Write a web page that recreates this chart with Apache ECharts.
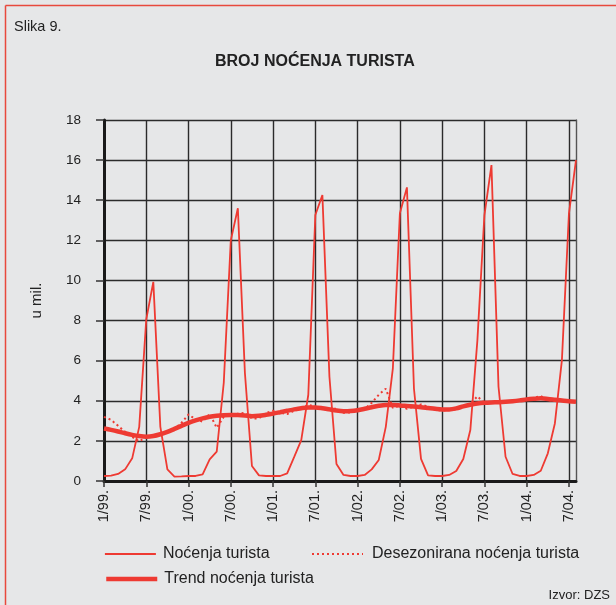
<!DOCTYPE html>
<html><head><meta charset="utf-8">
<script src="https://cdn.jsdelivr.net/npm/echarts@6/dist/echarts.min.js"></script>
<style>html,body{margin:0;padding:0;background:#e6e7e8}#c{width:616px;height:605px}</style>
</head><body><div id="c"></div><script>
const categories = [
 '1/99.','2/99.','3/99.','4/99.','5/99.','6/99.','7/99.','8/99.','9/99.','10/99.','11/99.','12/99.',
 '1/00.','2/00.','3/00.','4/00.','5/00.','6/00.','7/00.','8/00.','9/00.','10/00.','11/00.','12/00.',
 '1/01.','2/01.','3/01.','4/01.','5/01.','6/01.','7/01.','8/01.','9/01.','10/01.','11/01.','12/01.',
 '1/02.','2/02.','3/02.','4/02.','5/02.','6/02.','7/02.','8/02.','9/02.','10/02.','11/02.','12/02.',
 '1/03.','2/03.','3/03.','4/03.','5/03.','6/03.','7/03.','8/03.','9/03.','10/03.','11/03.','12/03.',
 '1/04.','2/04.','3/04.','4/04.','5/04.','6/04.','7/04.','8/04.'
];
const tickLabels = ['1/99.','7/99.','1/00.','7/00.','1/01.','7/01.','1/02.','7/02.','1/03.','7/03.','1/04.','7/04.'];
const yTicks = [0,2,4,6,8,10,12,14,16,18];

const nocenja = [
 0.25,0.27,0.35,0.58,1.13,2.7,8.06,9.93,2.7,0.58,0.22,0.23,
 0.25,0.25,0.33,1.08,1.46,4.9,12.0,13.6,5.4,0.75,0.28,0.25,
 0.25,0.25,0.38,1.2,2.04,4.3,13.26,14.26,5.2,0.85,0.3,0.25,
 0.25,0.3,0.58,1.05,2.7,5.6,13.35,14.64,4.6,1.1,0.28,0.25,
 0.25,0.3,0.5,1.1,2.54,7.0,13.26,15.75,4.7,1.21,0.35,0.25,
 0.25,0.3,0.51,1.38,2.87,6.03,13.35,16.0
];
const desezonirana = [
 3.2,3.05,2.75,2.45,2.2,1.97,2.2,2.25,2.3,2.45,2.6,2.9,
 3.32,3.07,2.96,3.35,2.65,3.2,3.3,3.35,3.4,3.12,3.12,3.4,
 3.5,3.4,3.34,3.5,3.6,3.8,3.7,3.57,3.62,3.6,3.4,3.42,
 3.5,3.6,3.9,4.3,4.6,3.65,3.75,3.6,3.7,3.82,3.7,3.55,
 3.5,3.55,3.57,3.7,3.85,4.22,3.9,3.9,3.95,3.93,3.97,4.0,
 4.05,4.15,4.24,4.0,4.05,4.0,3.97,3.95
];
const trend = [
 2.62,2.55,2.47,2.38,2.3,2.24,2.21,2.24,2.33,2.45,2.6,2.75,
 2.9,3.02,3.12,3.2,3.25,3.28,3.29,3.29,3.27,3.23,3.25,3.3,
 3.36,3.43,3.5,3.57,3.63,3.67,3.67,3.63,3.57,3.51,3.48,3.49,
 3.53,3.6,3.68,3.75,3.79,3.79,3.77,3.74,3.71,3.68,3.64,3.6,
 3.57,3.57,3.62,3.72,3.8,3.86,3.9,3.92,3.93,3.95,3.98,4.02,
 4.07,4.1,4.12,4.09,4.05,4.01,3.98,3.95
];

const RED = '#ee3a32';
const GRID = '#2b2b2b';
const FONT = '"Liberation Sans", Arial, Helvetica, sans-serif';
const chart = echarts.init(document.getElementById('c'), null, {renderer: 'canvas'});
const showIdx = (i) => tickLabels.indexOf(categories[i]) >= 0;
const legendBase = {itemWidth: 51, itemHeight: 14, itemStyle: {opacity: 0}};

chart.setOption({
  backgroundColor: '#e6e7e8',
  animation: false,
  textStyle: {fontFamily: FONT},
  title: [
    {text: 'Slika 9.', left: 9, top: 14, textStyle: {fontSize: 14.5, fontWeight: 'normal', color: '#222', fontFamily: FONT}},
    {text: 'BROJ NOĆENJA TURISTA', left: 210, top: 49, textStyle: {fontSize: 16, fontWeight: 'bold', color: '#222', fontFamily: FONT}}
  ],
  grid: {left: 104, top: 120, right: 40, bottom: 124, containLabel: false},
  legend: [
    Object.assign({data: ['Noćenja turista'], left: 99, top: 541,
     lineStyle: {width: 1.8},
     textStyle: {fontSize: 16, color: '#222', fontFamily: FONT, padding: [0,0,0,2]}}, legendBase),
    Object.assign({data: ['Desezonirana noćenja turista'], left: 306, top: 541,
     lineStyle: {width: 2},
     textStyle: {fontSize: 16, color: '#222', fontFamily: FONT, padding: [0,0,0,4]}}, legendBase),
    Object.assign({data: ['Trend noćenja turista'], left: 99, top: 566,
     lineStyle: {width: 4.5},
     textStyle: {fontSize: 16, color: '#222', fontFamily: FONT, padding: [0,0,0,2]}}, legendBase)
  ],
  xAxis: {
    type: 'category', data: categories, boundaryGap: false,
    axisLine: {lineStyle: {color: '#1a1a1a', width: 3}},
    axisTick: {show: true, interval: (i) => showIdx(i), length: 6, lineStyle: {color: '#333', width: 1.5}},
    axisLabel: {interval: (i) => showIdx(i), rotate: 90, margin: 9, fontSize: 14.5, color: '#222', fontFamily: FONT},
    splitLine: {show: true, interval: (i) => showIdx(i), lineStyle: {color: GRID, width: 1.4}}
  },
  yAxis: [
    {type: 'value', min: yTicks[0], max: yTicks[yTicks.length-1], interval: 2,
     name: 'u mil.', nameLocation: 'middle', nameGap: 60, nameRotate: 90,
     nameTextStyle: {fontSize: 15, color: '#222', fontFamily: FONT},
     axisLine: {show: true, lineStyle: {color: '#1a1a1a', width: 3}},
     axisTick: {show: true, length: 8, lineStyle: {color: '#333', width: 1.5}},
     axisLabel: {margin: 23, fontSize: 13.5, color: '#222', fontFamily: FONT},
     splitLine: {show: true, lineStyle: {color: GRID, width: 1.4}}},
    {type: 'value', min: 0, max: 18, interval: 2, position: 'right',
     axisLine: {show: true, lineStyle: {color: '#555', width: 1.4}},
     axisTick: {show: false}, axisLabel: {show: false}, splitLine: {show: false}}
  ],
  series: [
    {name: 'Noćenja turista', type: 'line', data: nocenja, symbol: 'none',
     lineStyle: {color: RED, width: 1.8}, itemStyle: {color: RED}},
    {name: 'Desezonirana noćenja turista', type: 'line', data: desezonirana, symbol: 'none',
     lineStyle: {color: RED, width: 2, type: [2, 3]}, itemStyle: {color: RED}},
    {name: 'Trend noćenja turista', type: 'line', data: trend, symbol: 'none', smooth: 0.3,
     lineStyle: {color: RED, width: 4.5}, itemStyle: {color: RED}}
  ],
  graphic: [
    {type: 'line', shape: {x1: 5.5, y1: 5.5, x2: 616, y2: 5.5}, style: {stroke: '#e8493c', lineWidth: 1.5}},
    {type: 'line', shape: {x1: 5.5, y1: 5.5, x2: 5.5, y2: 605}, style: {stroke: '#e8493c', lineWidth: 1.5}},
    {type: 'text', right: 6, top: 589, style: {text: 'Izvor: DZS', fontSize: 13, fill: '#222', fontFamily: FONT}}
  ]
});
</script></body></html>
